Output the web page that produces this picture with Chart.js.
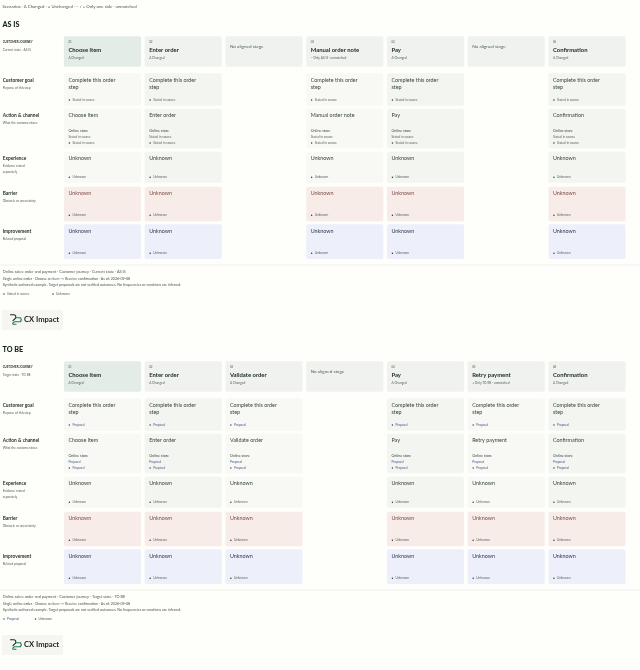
<!DOCTYPE html>
<html>
<head>
<meta charset="utf-8">
<title>Journey map</title>
<style>
  html, body { margin: 0; padding: 0; background: #fefefb; }
  canvas { display: block; }
</style>
<script src="https://cdn.jsdelivr.net/npm/chart.js@4/dist/chart.umd.js"></script>
</head>
<body>
<canvas id="journey" width="640" height="670"></canvas>
<script>
// data
const scenarioNote = 'Scenarios · Δ Changed · = Unchanged · − / + Only one side · unmatched'
const noStage = 'No aligned stage'

const asIsStages = ['Choose item', 'Enter order', null, 'Manual order note', 'Pay', null, 'Confirmation']
const asIsNumbers = ['01', '02', null, '03', '04', null, '05']
const asIsStatus = ['Δ Changed', 'Δ Changed', null, '− Only AS IS · unmatched', 'Δ Changed', null, 'Δ Changed']

const toBeStages = ['Choose item', 'Enter order', 'Validate order', null, 'Pay', 'Retry payment', 'Confirmation']
const toBeNumbers = ['01', '02', '03', null, '04', '05', '06']
const toBeStatus = ['Δ Changed', 'Δ Changed', 'Δ Changed', null, 'Δ Changed', '+ Only TO BE · unmatched', 'Δ Changed']

const rowNames = ['Customer goal', 'Action & channel', 'Experience', 'Barrier', 'Improvement']
const rowNotes = [['Purpose of this step'], ['What the customer does'], ['Evidence stated', 'separately'], ['Obstacle or uncertainty'], ['Related proposal']]
const goalLines = ['Complete this order', 'step']
const channelName = 'Online store'
const unknownText = 'Unknown'

const footerLine2 = 'Single online order · Choose an item → Receive confirmation · As of: 2026-09-08'
const footerLine3 = 'Synthetic authored example. Target proposals are not verified outcomes. No frequencies or emotions are inferred.'

const sections = [
  { title: 'AS IS', shift: 0, stages: asIsStages, numbers: asIsNumbers, status: asIsStatus,
    note: 'Current state · AS IS', source: 'Stated in source', sourceColor: '#5c6660', dotColor: '#2c3a34',
    footer: 'Online sales: order and payment · Customer journey · Current state · AS IS', legendGap: 49 },
  { title: 'TO BE', shift: 325, stages: toBeStages, numbers: toBeNumbers, status: toBeStatus,
    note: 'Target state · TO BE', source: 'Proposal', sourceColor: '#4f5f8f', dotColor: '#34467c',
    footer: 'Online sales: order and payment · Customer journey · Target state · TO BE', legendGap: 31.5 }
]

// top and bottom of each band in the as-is panel, to-be is the same shifted down
const headerBand = [36.3, 66.7]
const rowBands = [[73.3, 105.7], [108.7, 148.3], [151.7, 182.7], [186.7, 221.3], [224.3, 259]]
const rowFill = ['#f8f9f5', '#f8f9f5', '#f8f9f5', '#f8ece8', '#edf0fa']
const rowFillDark = ['#f3f5f0', '#f3f5f0', '#f3f5f0', '#f8ece8', '#edf0fa']
const darkCols = [1, 4, 6]

const FONT = 'Lato'
const INK = '#26332d'

function bars(section) {
  const out = [{
    data: section.stages.map(() => [headerBand[0] + section.shift, headerBand[1] + section.shift]),
    backgroundColor: section.stages.map((s, i) => i === 0 ? '#e3ece6' : '#eff2ee')
  }]
  rowBands.forEach((band, r) => {
    out.push({
      data: section.stages.map(s => s ? [band[0] + section.shift, band[1] + section.shift] : null),
      backgroundColor: section.stages.map((s, i) => darkCols.includes(i) ? rowFillDark[r] : rowFill[r])
    })
  })
  return out
}

const pageText = {
  id: 'pageText',
  afterDatasetsDraw(chart) {
    const { ctx, scales: { x, y } } = chart
    const put = (str, px, val, size, color, weight) => {
      ctx.font = (weight || 400) + ' ' + size + 'px ' + FONT
      ctx.fillStyle = color || INK
      ctx.textAlign = 'left'
      ctx.textBaseline = 'middle'
      ctx.fillText(str, px, y.getPixelForValue(val))
    }
    const dot = (px, val, color) => {
      ctx.fillStyle = color
      ctx.beginPath()
      ctx.arc(px, y.getPixelForValue(val), 0.75, 0, Math.PI * 2)
      ctx.fill()
    }

    put(scenarioNote, 2.5, 7, 4.3, '#4a5650')

    sections.forEach(sec => {
      const d = sec.shift
      put(sec.title, 2.5, 25 + d, 7.2, '#17241e', 900)
      put('CUSTOMER JOURNEY', 2.7, 42.5 + d, 2.9, '#26332d', 700)
      put(sec.note, 2.7, 50.3 + d, 3.2, '#56625c')

      const rowTitleY = [80, 115.7, 158.5, 193, 231]
      const rowTagY = [100, 143, 177.3, 215.3, 253.3]
      rowNames.forEach((name, r) => {
        put(name, 2.7, rowTitleY[r] + d, 4.8, '#26332d', 700)
        rowNotes[r].forEach((line, n) => put(line, 2.7, rowTitleY[r] + d + 7.6 + n * 5.4, 3.2, '#56625c'))
      })

      sec.stages.forEach((stage, c) => {
        const left = x.getPixelForValue(c) - 34.1
        if (!stage) {
          put(noStage, left, 47 + d, 4.6, '#56625c')
          return
        }
        put(sec.numbers[c], left, 42.5 + d, 2.9, '#56625c')
        put(stage, left, 50 + d, 5.9, '#1d2a24', 700)
        put(sec.status[c], left, 57.8 + d, 3.2, '#56625c')

        const tag = (val, text, color, dotColor) => {
          dot(left + 1, val + d, dotColor)
          put(text, left + 4, val + d, 3.2, color)
        }
        // goal
        put(goalLines[0], left, 80 + d, 5.4, '#3a4640')
        put(goalLines[1], left, 87.7 + d, 5.4, '#3a4640')
        tag(100, sec.source, sec.sourceColor, sec.dotColor)
        // action and channel
        put(stage, left, 115.7 + d, 5.4, '#3a4640')
        put(channelName, left, 130.5 + d, 3.7, '#3a4640')
        put(sec.source, left, 136.7 + d, 3.2, sec.sourceColor)
        tag(143, sec.source, sec.sourceColor, sec.dotColor)
        // experience, barrier, improvement are all unknown
        put(unknownText, left, 158.5 + d, 5.4, '#3a4640')
        tag(177.3, unknownText, '#5c6660', '#2c3a34')
        put(unknownText, left, 193 + d, 5.4, '#7c4f48')
        tag(215.3, unknownText, '#5c6660', '#2c3a34')
        put(unknownText, left, 231 + d, 5.4, '#2f3a4c')
        tag(253.3, unknownText, '#5c6660', '#2c3a34')
      })

      // footer
      const line = y.getPixelForValue(265 + d)
      ctx.strokeStyle = '#eef0ec'
      ctx.lineWidth = 0.8
      ctx.beginPath()
      ctx.moveTo(0, line)
      ctx.lineTo(640, line)
      ctx.stroke()
      put(sec.footer, 2.7, 271.7 + d, 3.8, '#4a5650')
      put(footerLine2, 2.7, 278.7 + d, 3.6, '#4a5650')
      put(footerLine3, 2.7, 285.3 + d, 3.6, '#4a5650')
      dot(4, 294 + d, sec.dotColor)
      put(sec.source, 7, 294 + d, 3.2, sec.sourceColor)
      dot(4 + sec.legendGap, 294 + d, '#2c3a34')
      put(unknownText, 7 + sec.legendGap, 294 + d, 3.2, '#5c6660')

      // logo
      const top = y.getPixelForValue(310 + d)
      ctx.fillStyle = '#f5f5f1'
      ctx.beginPath()
      ctx.roundRect(2, top, 61, 20, 1.5)
      ctx.fill()
      const cy = top + 9.7
      ctx.lineWidth = 1.1
      ctx.lineCap = 'round'
      ctx.strokeStyle = '#1d2a24'
      ctx.beginPath()
      ctx.moveTo(10.5, cy - 5)
      ctx.lineTo(14, cy - 5)
      ctx.quadraticCurveTo(16.5, cy - 4.5, 15.5, cy - 1.5)
      ctx.lineTo(13, cy + 1)
      ctx.stroke()
      ctx.strokeStyle = '#1f7a5c'
      ctx.beginPath()
      ctx.moveTo(15.5, cy - 2)
      ctx.lineTo(20.5, cy - 2)
      ctx.quadraticCurveTo(22, cy, 20.5, cy + 2)
      ctx.lineTo(14.5, cy + 2)
      ctx.quadraticCurveTo(12, cy + 3.2, 13, cy + 4.5)
      ctx.lineTo(16, cy + 4.5)
      ctx.stroke()
      put('CX Impact', 24, top + 9.7, 7.6, '#17241e', 700)
    })
  }
}

new Chart(document.getElementById('journey').getContext('2d'), {
  type: 'bar',
  data: {
    labels: asIsStages.map((s, i) => i),
    datasets: sections.flatMap(bars).map(ds => ({
      ...ds,
      grouped: false,
      categoryPercentage: 1,
      barPercentage: 0.955,
      borderRadius: 1.8,
      borderSkipped: false
    }))
  },
  plugins: [pageText],
  options: {
    responsive: false,
    animation: false,
    devicePixelRatio: 1,
    layout: { padding: { left: 62.1, right: 12.6, top: 0, bottom: 0 } },
    plugins: { legend: { display: false }, tooltip: { enabled: false } },
    scales: {
      x: { display: false, type: 'category' },
      y: { display: false, type: 'linear', reverse: true, min: 0, max: 670 }
    }
  }
})
</script>
</body>
</html>
